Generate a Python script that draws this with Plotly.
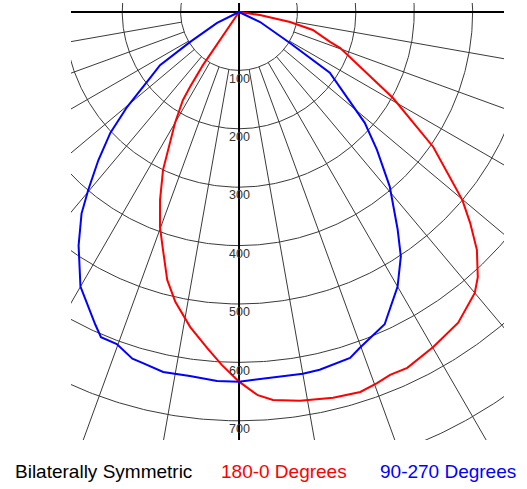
import numpy as np
import plotly.graph_objects as go

# Candela distribution (gamma angle from nadir; negative = left half of the plane)
red_angles = [-34, -33.7, -34.4, -34.2, -33.2, -32.5, -30.0, -27.8, -25.7, -22.8,
              -20.2, -17.7, -15.0, -12.4, -8.8, -5.4, -2.8, 0, 2.8, 5.0,
              8.9, 13.7, 17.7, 20.4, 22.6, 25.3, 30.1, 35.2, 40.0, 42.0,
              45.0, 47.6, 49.9, 55.2, 60.8, 70.4, 71.8, 76.3, 78.9, 81.9, 90]
red_cd = [0, 37, 79, 110, 153, 179, 219, 253, 300, 349,
          392, 428, 475, 508, 546, 578, 605, 633, 657, 667,
          674, 680, 683, 678, 673, 674, 663, 651, 628, 611,
          576, 536, 500, 405, 302, 184, 164, 130, 89, 36, 0]

blue_angles = [-65, -63.4, -58.5, -56.1, -53.4, -49.7, -46.8, -43.5, -40.3, -38.0,
               -34.5, -30.0, -24.7, -23.0, -20.2, -17.1, -15.5, -11.9, -7.7, -3.4,
               0, 5.3, 10.0, 12.7, 16.1, 17.8, 19.8, 25.0, 30.0, 33.5,
               36.1, 39.3, 40.8, 45.0, 48.6, 56.2, 58.7, 64.5, 65]
blue_cd = [0, 42, 98, 163, 190, 251, 302, 350, 399, 438,
           485, 543, 589, 605, 606, 621, 623, 630, 629, 633,
           633, 629, 629, 628, 623, 622, 611, 590, 543, 502,
           461, 415, 395, 334, 287, 187, 102, 40, 0]

ring_values = [100, 200, 300, 400, 500, 600, 700, 800, 900]
ring_labels = ["100", "200", "300", "400", "500", "600", "700"]
spoke_angles = [-80, -70, -60, -50, -40, -30, -20, -10, 10, 20, 30, 40, 50, 60, 70, 80]

legend_texts = ["Bilaterally Symmetric", "180-0 Degrees", "90-270 Degrees"]
legend_colors = ["#000000", "#FF0000", "#0000FF"]


def to_xy(angles, cds):
    a = np.radians(np.asarray(angles, dtype=float))
    c = np.asarray(cds, dtype=float)
    return c * np.sin(a), -c * np.cos(a)


fig = go.Figure()

# grid circles
gx, gy = [], []
t = np.radians(np.linspace(0, 360, 721))
for r in ring_values:
    gx += list(r * np.sin(t)) + [None]
    gy += list(-r * np.cos(t)) + [None]
# spokes (start at the 100 ring)
for a in spoke_angles:
    x, y = to_xy([a, a], [100, 1200])
    gx += list(x) + [None]
    gy += list(y) + [None]
fig.add_trace(go.Scatter(x=gx, y=gy, mode="lines",
                         line=dict(color="#3a3a3a", width=1), hoverinfo="skip"))

# main axes
fig.add_trace(go.Scatter(x=[-2000, 2000], y=[0, 0], mode="lines",
                         line=dict(color="#000000", width=2), hoverinfo="skip"))
fig.add_trace(go.Scatter(x=[0, 0], y=[100, -2000], mode="lines",
                         line=dict(color="#000000", width=2), hoverinfo="skip"))

# curves
rx, ry = to_xy(red_angles, red_cd)
fig.add_trace(go.Scatter(x=rx, y=ry, mode="lines", name="180-0 Degrees",
                         line=dict(color="#FF0000", width=2)))
bx, by = to_xy(blue_angles, blue_cd)
fig.add_trace(go.Scatter(x=bx, y=by, mode="lines", name="90-270 Degrees",
                         line=dict(color="#0000FF", width=2)))

annotations = []
for lab in ring_labels:
    v = float(lab)
    annotations.append(dict(x=0, y=-(v + 14), xref="x", yref="y", text=lab,
                            showarrow=False, xanchor="center", yanchor="middle",
                            font=dict(family="Liberation Sans", size=12.5, color="#333333")))

# legend texts placed below the plot (pixel positions converted to paper coords)
plot_l, plot_w, plot_b, plot_h = 71, 433, 440, 437
legend_px = [13, 219, 378]
for txt, col, px in zip(legend_texts, legend_colors, legend_px):
    annotations.append(dict(x=(px - plot_l) / plot_w, y=(plot_b - 471) / plot_h,
                            xref="paper", yref="paper", text=txt, showarrow=False,
                            xanchor="left", yanchor="middle",
                            font=dict(family="Liberation Sans", size=19, color=col)))

fig.update_layout(
    width=527, height=489,
    margin=dict(l=71, r=23, t=3, b=49),
    paper_bgcolor="white", plot_bgcolor="white",
    showlegend=False,
    xaxis=dict(range=[-287.7, 453.7], visible=False, fixedrange=True),
    yaxis=dict(range=[-732.9, 15.4], visible=False, fixedrange=True),
    annotations=annotations,
)

fig.write_html("out.html", config={"displayModeBar": False})

# remove the default page margin so the figure sits at the window origin
with open("out.html", "r", encoding="utf-8") as f:
    html = f.read()
html = html.replace("<head>", "<head><style>html,body{margin:0;padding:0;overflow:hidden;}</style>", 1)
with open("out.html", "w", encoding="utf-8") as f:
    f.write(html)
